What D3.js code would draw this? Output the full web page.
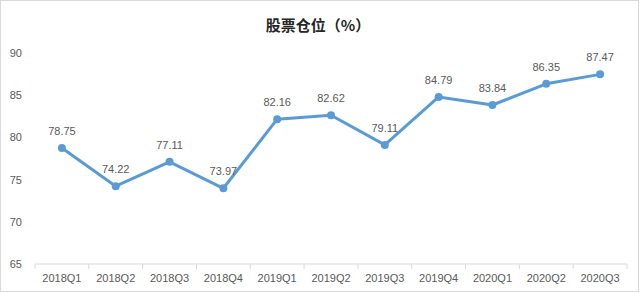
<!DOCTYPE html>
<html>
<head>
<meta charset="utf-8">
<script src="https://cdn.jsdelivr.net/npm/d3@7"></script>
<style>
  body { margin: 0; background: #fff; }
  svg text { font-family: "Liberation Sans", Arial, sans-serif; }
</style>
</head>
<body>
<svg id="chart" width="642" height="293"></svg>
<script>
const quarters = ['2018Q1', '2018Q2', '2018Q3', '2018Q4', '2019Q1', '2019Q2', '2019Q3', '2019Q4', '2020Q1', '2020Q2', '2020Q3'];
const positions = [78.75, 74.22, 77.11, 73.97, 82.16, 82.62, 79.11, 84.79, 83.84, 86.35, 87.47];
const yTicks = [65, 70, 75, 80, 85, 90];

const W = 642, H = 293;
const margin = { left: 35, right: 15, top: 53, bottom: 29 };
const svg = d3.select('#chart');

// outer border
svg.append('rect')
  .attr('x', 0.5).attr('y', 0.5)
  .attr('width', W - 4).attr('height', H - 2)
  .attr('fill', '#fff').attr('stroke', '#d9d9d9');

const x = d3.scaleBand().domain(quarters).range([margin.left, W - margin.right]);
const y = d3.scaleLinear().domain([65, 90]).range([H - margin.bottom, margin.top]);

// title
svg.append('text')
  .attr('x', 318).attr('y', 31)
  .attr('text-anchor', 'middle')
  .style('font-family', '"Noto Sans CJK SC", sans-serif')
  .style('font-size', '15px').style('font-weight', 'bold')
  .attr('fill', '#262626')
  .text('股票仓位（%）');

// y axis labels (no line)
svg.append('g').selectAll('text')
  .data(yTicks).enter().append('text')
  .attr('x', 22).attr('y', d => y(d) + 4)
  .attr('text-anchor', 'end')
  .attr('font-size', '11px').attr('fill', '#595959')
  .text(d => d);

// x axis
let xAxis = svg.append('g')
  .attr('transform', `translate(0,${H - margin.bottom})`);
xAxis.append('line')
  .attr('x1', margin.left).attr('x2', W - margin.right)
  .attr('stroke', '#d9d9d9');
xAxis.selectAll('.tick')
  .data(quarters.concat(['end'])).enter().append('line')
  .attr('x1', (d, i) => margin.left + i * x.step())
  .attr('x2', (d, i) => margin.left + i * x.step())
  .attr('y1', 0).attr('y2', 5)
  .attr('stroke', '#d9d9d9');
xAxis.selectAll('.label')
  .data(quarters).enter().append('text')
  .attr('x', d => x(d) + x.bandwidth() / 2)
  .attr('y', 18)
  .attr('text-anchor', 'middle')
  .attr('font-size', '11px').attr('fill', '#595959')
  .text(d => d);

const cx = (d, i) => x(quarters[i]) + x.bandwidth() / 2;

// line
svg.append('path')
  .datum(positions)
  .attr('fill', 'none')
  .attr('stroke', '#5b9bd5')
  .attr('stroke-width', 3)
  .attr('stroke-linejoin', 'round')
  .attr('d', d3.line().x(cx).y(d => y(d)));

// markers
svg.append('g').selectAll('circle')
  .data(positions).enter().append('circle')
  .attr('cx', cx).attr('cy', d => y(d))
  .attr('r', 4)
  .attr('fill', '#5b9bd5');

// value labels
svg.append('g').selectAll('text')
  .data(positions).enter().append('text')
  .attr('x', cx).attr('y', d => y(d) - 13)
  .attr('text-anchor', 'middle')
  .attr('font-size', '11px').attr('fill', '#595959')
  .text(d => d.toFixed(2));
</script>
</body>
</html>
